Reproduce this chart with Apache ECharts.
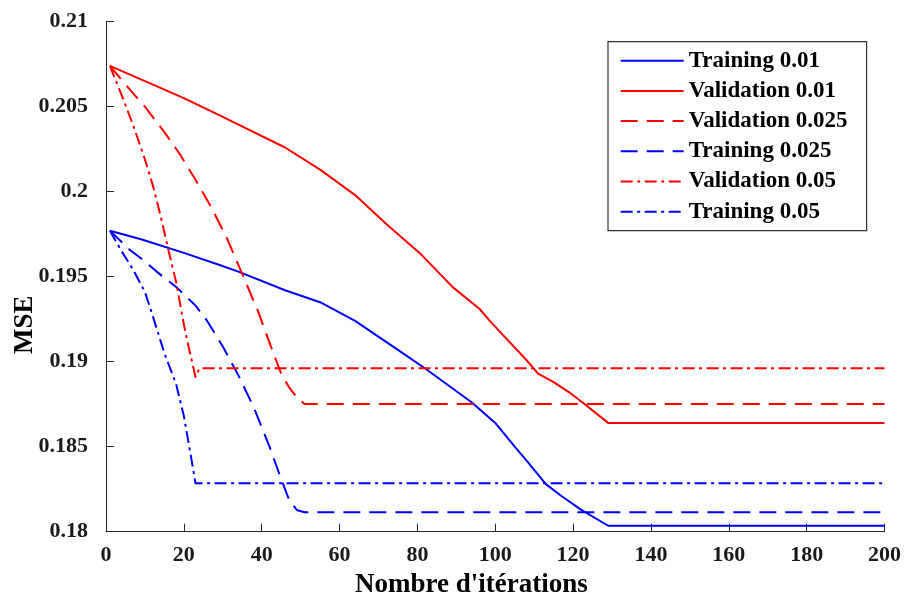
<!DOCTYPE html>
<html>
<head>
<meta charset="utf-8">
<script src="https://cdn.jsdelivr.net/npm/echarts@6/dist/echarts.min.js"></script>
<style>
  html, body { margin: 0; padding: 0; background: #fff; }
  #chart { width: 904px; height: 596px; }
</style>
</head>
<body>
<div id="chart"></div>
<script>
// MSE learning curves for three learning rates (training vs validation)
const xTicks = [0, 20, 40, 60, 80, 100, 120, 140, 160, 180, 200];
const yTicks = [0.18, 0.185, 0.19, 0.195, 0.2, 0.205, 0.21];

const seriesNames = [
  'Training 0.01', 'Validation 0.01', 'Validation 0.025',
  'Training 0.025', 'Validation 0.05', 'Training 0.05'
];

const iterTrain001 = [1, 9, 20, 29, 34, 46, 55, 64, 75, 82, 91, 94, 100, 105, 108, 113, 117, 122, 129, 200];
const mseTrain001  = [0.1977, 0.1972, 0.1964, 0.1957, 0.1953, 0.1942, 0.1935, 0.1924, 0.1907, 0.1896, 0.1881, 0.1876, 0.1864, 0.1850, 0.1842, 0.1828, 0.1821, 0.1813, 0.18035, 0.18035];

const iterVal001 = [1, 10, 20, 30, 46, 55, 64, 72, 81, 89, 96, 99, 108, 111, 115, 119, 123, 129, 200];
const mseVal001  = [0.2074, 0.2065, 0.2055, 0.2044, 0.2026, 0.2013, 0.1998, 0.1981, 0.1963, 0.1944, 0.1931, 0.1923, 0.1901, 0.1893, 0.1888, 0.1882, 0.1875, 0.1864, 0.1864];

const iterVal0025 = [1, 5, 10, 15, 19, 23, 27, 31, 34, 39, 43, 45, 47, 49, 51, 200];
const mseVal0025  = [0.2074, 0.2063, 0.2050, 0.2035, 0.2022, 0.2007, 0.1991, 0.1973, 0.1957, 0.1930, 0.1905, 0.1893, 0.1885, 0.1879, 0.18751, 0.18751];

const iterTrain0025 = [1, 6, 10, 13, 18, 23, 26, 30, 34, 38, 42, 45, 47, 49, 51, 200];
const mseTrain0025  = [0.1977, 0.1966, 0.1959, 0.1953, 0.1944, 0.1933, 0.1924, 0.1909, 0.1892, 0.1873, 0.1850, 0.1831, 0.1819, 0.18128, 0.18114, 0.18114];

const iterVal005 = [1, 4, 7, 10, 12, 14, 16, 18, 20, 21, 23, 24, 200];
const mseVal005  = [0.2074, 0.2057, 0.2039, 0.2019, 0.2004, 0.1986, 0.1966, 0.1947, 0.1922, 0.1911, 0.1891, 0.18961, 0.18961];

const iterTrain005 = [1, 4, 7, 10, 12, 15, 18, 20, 22, 23, 200];
const mseTrain005  = [0.1977, 0.1965, 0.1954, 0.1941, 0.1927, 0.1905, 0.1887, 0.1868, 0.1842, 0.18285, 0.18285];

const BLUE = '#0000ff';
const RED = '#ff0000';
const DASH = [17, 9];
const DASHDOT = [12, 4.5, 3, 4.5];
const FONT = '"Liberation Serif", "Times New Roman", serif';
const AXIS_COLOR = '#262626';

function pairs(xs, ys) {
  return xs.map((x, i) => [x, ys[i]]);
}

function lineSeries(name, xs, ys, color, type) {
  return {
    name: name,
    type: 'line',
    data: pairs(xs, ys),
    symbol: 'none',
    smooth: false,
    animation: false,
    lineStyle: { color: color, width: 2, type: type, join: 'round' },
    itemStyle: { color: color }
  };
}

const chart = echarts.init(document.getElementById('chart'), null, { renderer: 'canvas' });

chart.setOption({
  backgroundColor: '#ffffff',
  animation: false,
  grid: { left: 106, right: 19, top: 21.7, bottom: 64.3, containLabel: false },
  xAxis: {
    type: 'value',
    min: xTicks[0],
    max: xTicks[xTicks.length - 1],
    interval: xTicks[1] - xTicks[0],
    axisLine: { show: true, lineStyle: { color: AXIS_COLOR, width: 1 } },
    axisTick: { show: true, inside: true, length: 8, lineStyle: { color: AXIS_COLOR } },
    splitLine: { show: false },
    axisLabel: { color: '#1a1a1a', fontFamily: FONT, fontWeight: 'bold', fontSize: 22, margin: 13 }
  },
  yAxis: {
    type: 'value',
    min: yTicks[0],
    max: yTicks[yTicks.length - 1],
    interval: 0.005,
    axisLine: { show: true, lineStyle: { color: AXIS_COLOR, width: 1 } },
    axisTick: { show: true, inside: true, length: 8, lineStyle: { color: AXIS_COLOR } },
    splitLine: { show: false },
    axisLabel: {
      color: '#1a1a1a', fontFamily: FONT, fontWeight: 'bold', fontSize: 22, margin: 18,
      formatter: function (v) { return String(+v.toFixed(3)); }
    }
  },
  legend: {
    orient: 'vertical',
    left: 608,
    top: 41.7,
    padding: [7.5, 19, 7.5, 11.7],
    borderColor: '#333',
    borderWidth: 1.2,
    backgroundColor: '#ffffff',
    itemWidth: 63,
    itemHeight: 14,
    itemGap: 7.2,
    itemStyle: { opacity: 0 },
    data: seriesNames,
    textStyle: { color: '#000', fontFamily: FONT, fontWeight: 'bold', fontSize: 23, lineHeight: 23 }
  },
  graphic: [
    {
      type: 'text',
      left: 355, top: 572,
      style: { text: "Nombre d'itérations", fill: '#000', font: 'bold 27px ' + FONT }
    },
    {
      type: 'text',
      x: 12, y: 354,
      rotation: Math.PI / 2,
      style: { text: 'MSE', fill: '#000', font: 'bold 27px ' + FONT }
    }
  ],
  series: [
    lineSeries(seriesNames[0], iterTrain001, mseTrain001, BLUE, 'solid'),
    lineSeries(seriesNames[1], iterVal001, mseVal001, RED, 'solid'),
    lineSeries(seriesNames[2], iterVal0025, mseVal0025, RED, DASH),
    lineSeries(seriesNames[3], iterTrain0025, mseTrain0025, BLUE, DASH),
    lineSeries(seriesNames[4], iterVal005, mseVal005, RED, DASHDOT),
    lineSeries(seriesNames[5], iterTrain005, mseTrain005, BLUE, DASHDOT)
  ]
});
</script>
</body>
</html>
